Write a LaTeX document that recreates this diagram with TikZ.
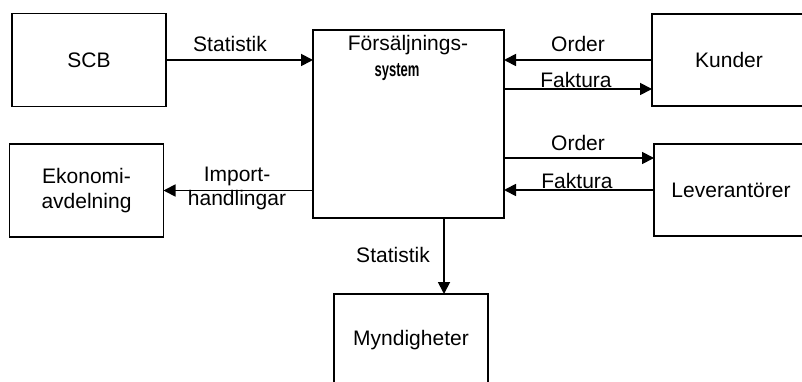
\documentclass[tikz,border=0pt]{standalone}
\usepackage{fontspec}
\setmainfont{Liberation Sans}
\usetikzlibrary{arrows.meta}
\begin{document}
\begin{tikzpicture}[x=1pt,y=-1pt,
  every node/.style={font=\fontsize{21}{25}\selectfont, inner sep=0pt},
  box/.style={draw, line width=1.8pt, minimum width=154pt, minimum height=93pt, align=center},
  arr/.style={line width=1.8pt, -{Triangle[length=12pt,width=12pt]}, shorten >=-0.9pt},
  lbl/.style={anchor=base}]
\clip (0,0) rectangle (802,382);
\fill[white] (0,0) rectangle (802,382);

% boxes
\node[box] (scb) at (89,60) {SCB};
\node[box] (eko) at (86.5,190.5) {Ekonomi-\\[0pt]avdelning};
\node[box] (fs) at (408.5,124) [minimum width=191pt, minimum height=188pt] {};
\node[box] (kun) at (729,60) [minimum height=92pt] {Kunder};
\node[box] (lev) at (731,190) [minimum height=92pt] {Leverantörer};
\node[box] (myn) at (411,340) [minimum height=92pt] {Myndigheter};

% title of the central system
\node[lbl] (fst) at (408,51) {Försäljnings-};
\node[lbl] (fss) at (397,77) {\scalebox{0.62}[0.95]{\bfseries system}};

% helper coordinates for the flow lines
\coordinate (kfak) at (600,89);
\coordinate (lord) at (600,158);
\coordinate (down) at (444,250);

% connectors
\draw[arr] (scb.east) -- (scb.east -| fs.west);
\draw[arr] (kun.west) -- (kun.west -| fs.east);
\draw[arr] (fs.east |- kfak) -- (kun.west |- kfak);
\draw[arr] (fs.east |- lord) -- (lev.west |- lord);
\draw[arr] (lev.west) -- (lev.west -| fs.east);
\draw[arr] (fs.west |- eko.east) -- (eko.east);
\draw[arr] (fs.south -| down) -- (myn.north -| down);

% flow labels
\node[lbl] (l1) at (230,52) {Statistik};
\node[lbl] (l2) at (578,52) {Order};
\node[lbl] (l3) at (576,88) {Faktura};
\node[lbl] (l4) at (578,150) {Order};
\node[lbl] (l5) at (577,188) {Faktura};
\node[lbl] (l6) at (237,181) {Import-};
\node[lbl] (l7) at (237,205) {handlingar};
\node[lbl] (l8) at (393,262) {Statistik};
\end{tikzpicture}
\end{document}
